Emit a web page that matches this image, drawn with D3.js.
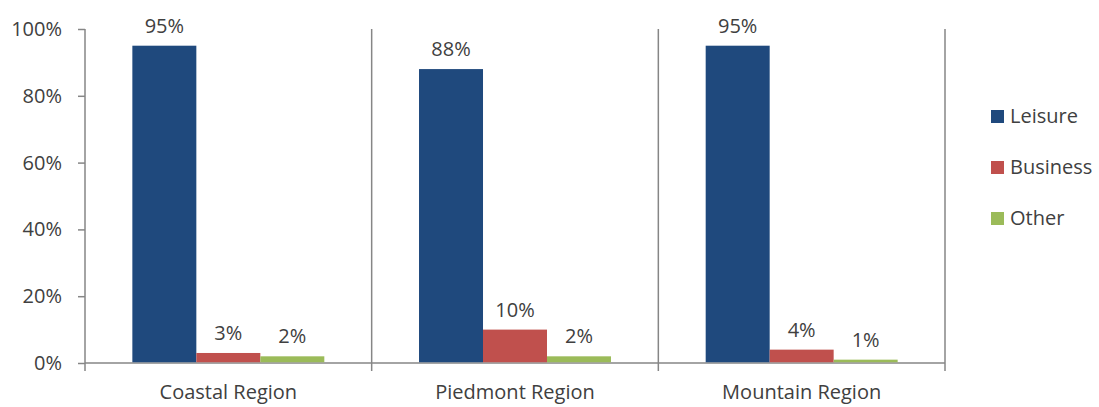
<!DOCTYPE html>
<html>
<head>
<meta charset="utf-8">
<script src="https://cdn.jsdelivr.net/npm/d3@7"></script>
<style>
  body { margin: 0; background: #fff; }
  text { font-family: "Open Sans", Lato, sans-serif; fill: #404040; }
</style>
</head>
<body>
<div id="chart"></div>
<script>
let regions = ['Coastal Region', 'Piedmont Region', 'Mountain Region']
let seriesNames = ['Leisure', 'Business', 'Other']
let leisure = [95, 88, 95]
let business = [3, 10, 4]
let other = [2, 2, 1]
let yTicks = [0, 20, 40, 60, 80, 100]

let colors = ['#1F497D', '#C0504D', '#9BBB59']

let width = 1099
let height = 407
let margin = { top: 29, left: 85, right: 154, bottom: 44 }

let svg = d3.select('#chart')
  .append('svg')
  .attr('width', width)
  .attr('height', height)

let xScale = d3.scaleBand()
  .domain(regions)
  .range([margin.left, width - margin.right])

let inner = d3.scaleBand()
  .domain(seriesNames)
  .range([0, xScale.bandwidth()])
  .paddingOuter(0.74)

let yScale = d3.scaleLinear()
  .domain([0, 100])
  .range([height - margin.bottom, margin.top])

let table = regions.map((r, i) => ({
  region: r,
  values: [leisure[i], business[i], other[i]]
}))

// axes
let yAxis = d3.axisLeft(yScale)
  .tickValues(yTicks)
  .tickFormat(d => d + '%')
  .tickSize(7)
  .tickPadding(16)

let yg = svg.append('g')
  .attr('transform', `translate(${margin.left},0)`)
  .call(yAxis)
yg.select('.domain').remove()
yg.selectAll('line').attr('stroke', '#868686').attr('stroke-width', 1.5)
yg.selectAll('text').attr('font-size', 20).attr('fill', '#404040')
  .style('font-family', '"Open Sans", sans-serif')

// vertical axis / separators
let bounds = regions.map(r => xScale(r)).concat([xScale(regions[2]) + xScale.bandwidth()])
svg.selectAll('.sep')
  .data(bounds)
  .enter()
  .append('line')
  .attr('class', 'sep')
  .attr('x1', d => d)
  .attr('x2', d => d)
  .attr('y1', margin.top)
  .attr('y2', yScale(0) + 8)
  .attr('stroke', '#868686')
  .attr('stroke-width', 1.5)

svg.append('line')
  .attr('x1', margin.left)
  .attr('x2', bounds[3])
  .attr('y1', yScale(0))
  .attr('y2', yScale(0))
  .attr('stroke', '#868686')
  .attr('stroke-width', 1.5)

let groups = svg.selectAll('.group')
  .data(table)
  .enter()
  .append('g')
  .attr('class', 'group')
  .attr('transform', d => `translate(${xScale(d.region)},0)`)

groups.selectAll('rect')
  .data(d => d.values.map((v, i) => ({ name: seriesNames[i], value: v })))
  .enter()
  .append('rect')
  .attr('x', d => inner(d.name))
  .attr('width', inner.bandwidth())
  .attr('y', d => yScale(d.value))
  .attr('height', d => yScale(0) - yScale(d.value) - 0.75)
  .attr('fill', (d, i) => colors[i])

groups.selectAll('.val')
  .data(d => d.values.map((v, i) => ({ name: seriesNames[i], value: v })))
  .enter()
  .append('text')
  .attr('class', 'val')
  .attr('x', d => inner(d.name) + inner.bandwidth() / 2)
  .attr('y', d => yScale(d.value) - 13)
  .attr('text-anchor', 'middle')
  .attr('font-size', 20)
  .text(d => d.value + '%')

svg.selectAll('.cat')
  .data(regions)
  .enter()
  .append('text')
  .attr('class', 'cat')
  .attr('x', d => xScale(d) + xScale.bandwidth() / 2)
  .attr('y', 399)
  .attr('text-anchor', 'middle')
  .attr('font-size', 20)
  .text(d => d)

let legend = svg.append('g')
  .attr('transform', 'translate(991,110)')

legend.selectAll('.legend-entry')
  .data(seriesNames)
  .enter()
  .append('g')
  .attr('class', 'legend-entry')
  .attr('transform', (d, i) => `translate(0,${i * 51})`)
  .each(function (d, i) {
    let g = d3.select(this)
    g.append('rect')
      .attr('width', 13)
      .attr('height', 13)
      .attr('fill', colors[i])
    g.append('text')
      .attr('x', 19)
      .attr('y', 13)
      .attr('font-size', 20)
      .text(d)
  })
</script>
</body>
</html>
